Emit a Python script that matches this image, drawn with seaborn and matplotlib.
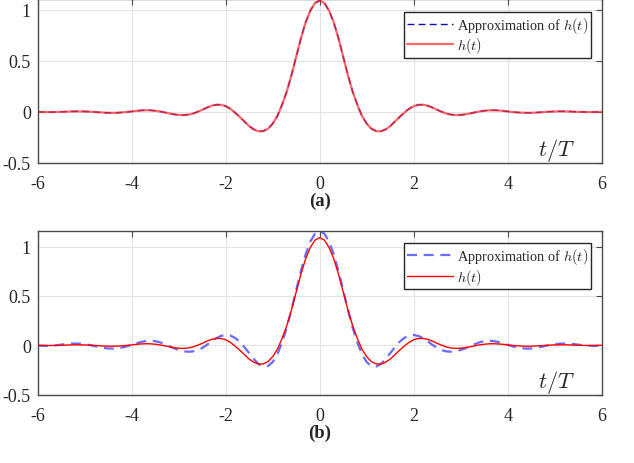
import numpy as np
import pandas as pd
import seaborn as sns
import matplotlib
matplotlib.use('Agg')
import matplotlib.pyplot as plt

# t/T grid (one side, curves are symmetric about t = 0)
t_half = [round(0.1 * i, 1) for i in range(61)]

# h(t) at t = 0, 0.1, ..., 6
h_half = [1.09, 1.065, 0.99, 0.875, 0.72, 0.54, 0.36, 0.20, 0.07, -0.04,
          -0.115, -0.165, -0.188, -0.19, -0.172, -0.14, -0.095, -0.05, -0.008, 0.03,
          0.056, 0.069, 0.07, 0.06, 0.042, 0.02, 0.0, -0.017, -0.027, -0.031,
          -0.03, -0.024, -0.015, -0.005, 0.004, 0.011, 0.015, 0.016, 0.014, 0.01,
          0.004, -0.001, -0.005, -0.008, -0.009, -0.009, -0.007, -0.004, -0.001, 0.002,
          0.004, 0.005, 0.005, 0.004, 0.002, 0.0, -0.001, -0.002, -0.002, -0.001,
          0.0]

# approximation in panel (a): on top of h(t)
approx_a_half = [1.09, 1.065, 0.99, 0.875, 0.72, 0.54, 0.36, 0.20, 0.07, -0.04,
                 -0.115, -0.165, -0.188, -0.19, -0.172, -0.14, -0.095, -0.05, -0.008, 0.03,
                 0.056, 0.069, 0.07, 0.06, 0.042, 0.02, 0.0, -0.017, -0.027, -0.031,
                 -0.03, -0.024, -0.015, -0.005, 0.004, 0.011, 0.015, 0.016, 0.014, 0.01,
                 0.004, -0.001, -0.005, -0.008, -0.009, -0.009, -0.007, -0.004, -0.001, 0.002,
                 0.004, 0.005, 0.005, 0.004, 0.002, 0.0, -0.001, -0.002, -0.002, -0.001,
                 0.0]

# approximation in panel (b)
approx_b_half = [1.155, 1.13, 1.05, 0.92, 0.75, 0.56, 0.36, 0.18, 0.03, -0.09,
                 -0.17, -0.21, -0.215, -0.19, -0.14, -0.08, -0.02, 0.035, 0.075, 0.098,
                 0.104, 0.095, 0.072, 0.04, 0.005, -0.027, -0.05, -0.062, -0.065, -0.06,
                 -0.048, -0.03, -0.01, 0.012, 0.03, 0.042, 0.046, 0.043, 0.034, 0.02,
                 0.005, -0.01, -0.022, -0.03, -0.033, -0.032, -0.026, -0.017, -0.007, 0.003,
                 0.011, 0.016, 0.018, 0.017, 0.013, 0.007, 0.001, -0.004, -0.006, -0.005,
                 -0.003]

xticks = [-6, -4, -2, 0, 2, 4, 6]
yticks = [-0.5, 0, 0.5, 1]
ytick_labels = ['-0.5', '0', '0.5', '1']
panel_labels = ['(a)', '(b)']


def mirror(vals):
    return list(reversed(vals[1:])) + list(vals)


t = [-v for v in reversed(t_half[1:])] + t_half
df = pd.DataFrame({
    't': t,
    'h': mirror(h_half),
    'approx_a': mirror(approx_a_half),
    'approx_b': mirror(approx_b_half),
})

sns.set_style('white')
plt.rcParams['font.family'] = 'serif'
plt.rcParams['font.serif'] = ['Liberation Serif', 'DejaVu Serif']
plt.rcParams['mathtext.fontset'] = 'cm'
plt.rcParams['axes.unicode_minus'] = False

fig = plt.figure(figsize=(6.34, 4.64), dpi=100)
ax_a = fig.add_axes([0.0595, 0.6466, 0.8895, 0.3524])
ax_b = fig.add_axes([0.0595, 0.1472, 0.8895, 0.3534])

# panel (a)
sns.lineplot(data=df, x='t', y='approx_a', ax=ax_a, color='#1010b0', lw=1.0,
             linestyle=(0, (5, 3)), label='Approximation of $h(t)$')
sns.lineplot(data=df, x='t', y='h', ax=ax_a, color='#ff2a2a', lw=1.6, alpha=0.7,
             label='$h(t)$')
ax_a.set_ylim(-0.5, 1.1)

# panel (b)
sns.lineplot(data=df, x='t', y='approx_b', ax=ax_b, color='#5050ff', lw=1.6, alpha=0.85,
             linestyle=(0, (4.5, 3)), label='Approximation of $h(t)$')
sns.lineplot(data=df, x='t', y='h', ax=ax_b, color='#ff0000', lw=1.0,
             label='$h(t)$')
ax_b.set_ylim(-0.5, 1.16)

for ax, lab in zip([ax_a, ax_b], panel_labels):
    ax.set_xlim(-6, 6)
    ax.set_xticks(xticks)
    ax.set_xticklabels([str(v) for v in xticks])
    ax.set_yticks(yticks)
    ax.set_yticklabels(ytick_labels)
    ax.set_xlabel('')
    ax.set_ylabel('')
    ax.grid(True, color='#e3e3e3', lw=0.8)
    ax.set_axisbelow(True)
    for s in ax.spines.values():
        s.set_color('#4a4a4a')
        s.set_linewidth(1.0)
        s.set_visible(True)
    ax.tick_params(direction='in', length=4, width=0.8, color='#4a4a4a',
                   top=True, right=True, labelsize=13, labelcolor='#262626')
    ax.tick_params(axis='x', pad=9)
    ax.tick_params(axis='y', pad=5)
    ax.text(0.92, 0.08, '$t/T$', transform=ax.transAxes, fontsize=16,
            ha='center', va='center', color='#262626')
    ax.text(0.5, -0.23, lab, transform=ax.transAxes, fontsize=13.5, fontweight='bold',
            ha='center', va='center')
    leg = ax.legend(loc='upper right', bbox_to_anchor=(0.981, 0.925), borderaxespad=0,
                    fontsize=10.3, handlelength=3.2, handletextpad=0.3,
                    borderpad=0.2, labelspacing=0.05, fancybox=False, framealpha=1)
    leg.get_frame().set_edgecolor('#262626')
    leg.get_frame().set_linewidth(1.0)

fig.savefig('out.png', dpi=100)
